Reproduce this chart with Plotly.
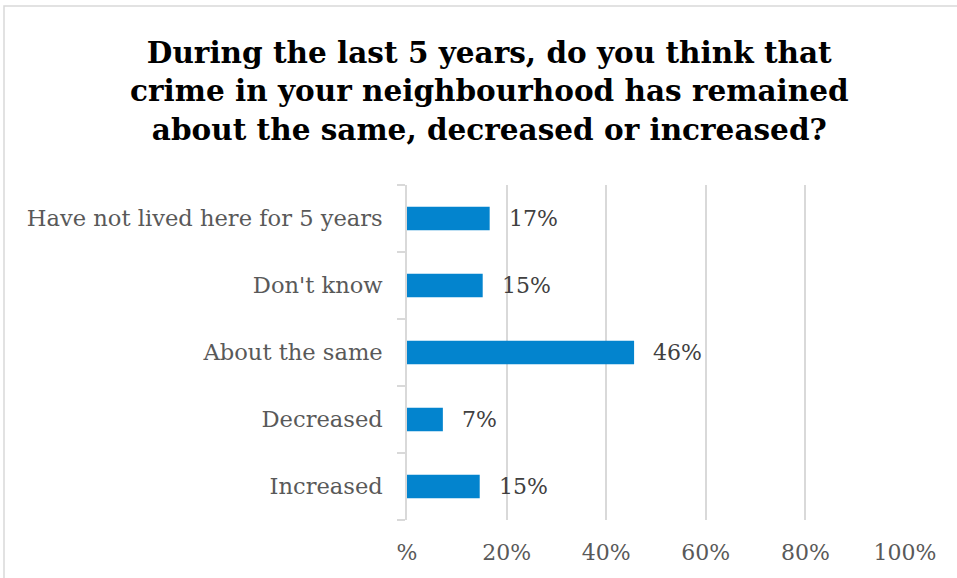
import plotly.graph_objects as go

categories = ["Increased", "Decreased", "About the same", "Don't know", "Have not lived here for 5 years"]
values = [0.146, 0.072, 0.456, 0.152, 0.166]
labels = ["15%", "7%", "46%", "15%", "17%"]
tick_vals = [0, 0.2, 0.4, 0.6, 0.8, 1.0]
tick_text = ["%", "20%", "40%", "60%", "80%", "100%"]
title_lines = ["During the last 5 years, do you think that",
               "crime in your neighbourhood has remained",
               "about the same, decreased or increased?"]

L, R, T, B = 407, 52, 185, 58
W, H = 957, 578
pw, ph = W - L - R, H - T - B

fig = go.Figure()
fig.add_trace(go.Bar(
    x=values, y=categories, orientation="h",
    marker=dict(color="#0384CE", line=dict(width=0)),
    width=0.35,
    hoverinfo="skip",
))

for c, v, t in zip(categories, values, labels):
    fig.add_annotation(x=v, y=c, text=t, showarrow=False, xanchor="left",
                       xshift=17, font=dict(family="DejaVu Serif", size=22, color="#404040"))

fig.add_annotation(xref="paper", yref="paper", x=(489 - L) / pw, y=(H - B - 91) / ph,
                   text="<br>".join(title_lines), showarrow=False,
                   xanchor="center", yanchor="middle", align="center",
                   font=dict(family="DejaVu Serif", size=29.5, color="black", weight="bold"))

# outer chart border (top/left visible)
fig.add_shape(type="rect", xref="paper", yref="paper",
              x0=(4 - L) / pw, x1=(W + 20 - L) / pw,
              y0=-(B + 20) / ph, y1=(H - B - 6) / ph,
              line=dict(color="#d9d9d9", width=1.5), layer="below")

fig.update_layout(
    width=W, height=H,
    margin=dict(l=L, r=R, t=T, b=B),
    paper_bgcolor="white", plot_bgcolor="white",
    showlegend=False,
    bargap=0.65,
    font=dict(family="DejaVu Serif", color="#595959"),
)
fig.update_xaxes(range=[0, 1.0], tickvals=tick_vals, ticktext=tick_text,
                 showgrid=True, gridcolor="#d9d9d9", gridwidth=1.5,
                 zeroline=False, showline=False, ticks="",
                 ticklabelstandoff=17,
                 tickfont=dict(family="DejaVu Serif", size=22, color="#595959"),
                 fixedrange=True)
fig.update_yaxes(showline=True, linecolor="#d9d9d9", linewidth=1.5,
                 ticks="outside", tickson="boundaries", ticklen=8, tickcolor="#d9d9d9",
                 tickwidth=1.5, ticklabelstandoff=18,
                 tickfont=dict(family="DejaVu Serif", size=22.6, color="#595959"),
                 fixedrange=True)

fig.write_html("out.html")
